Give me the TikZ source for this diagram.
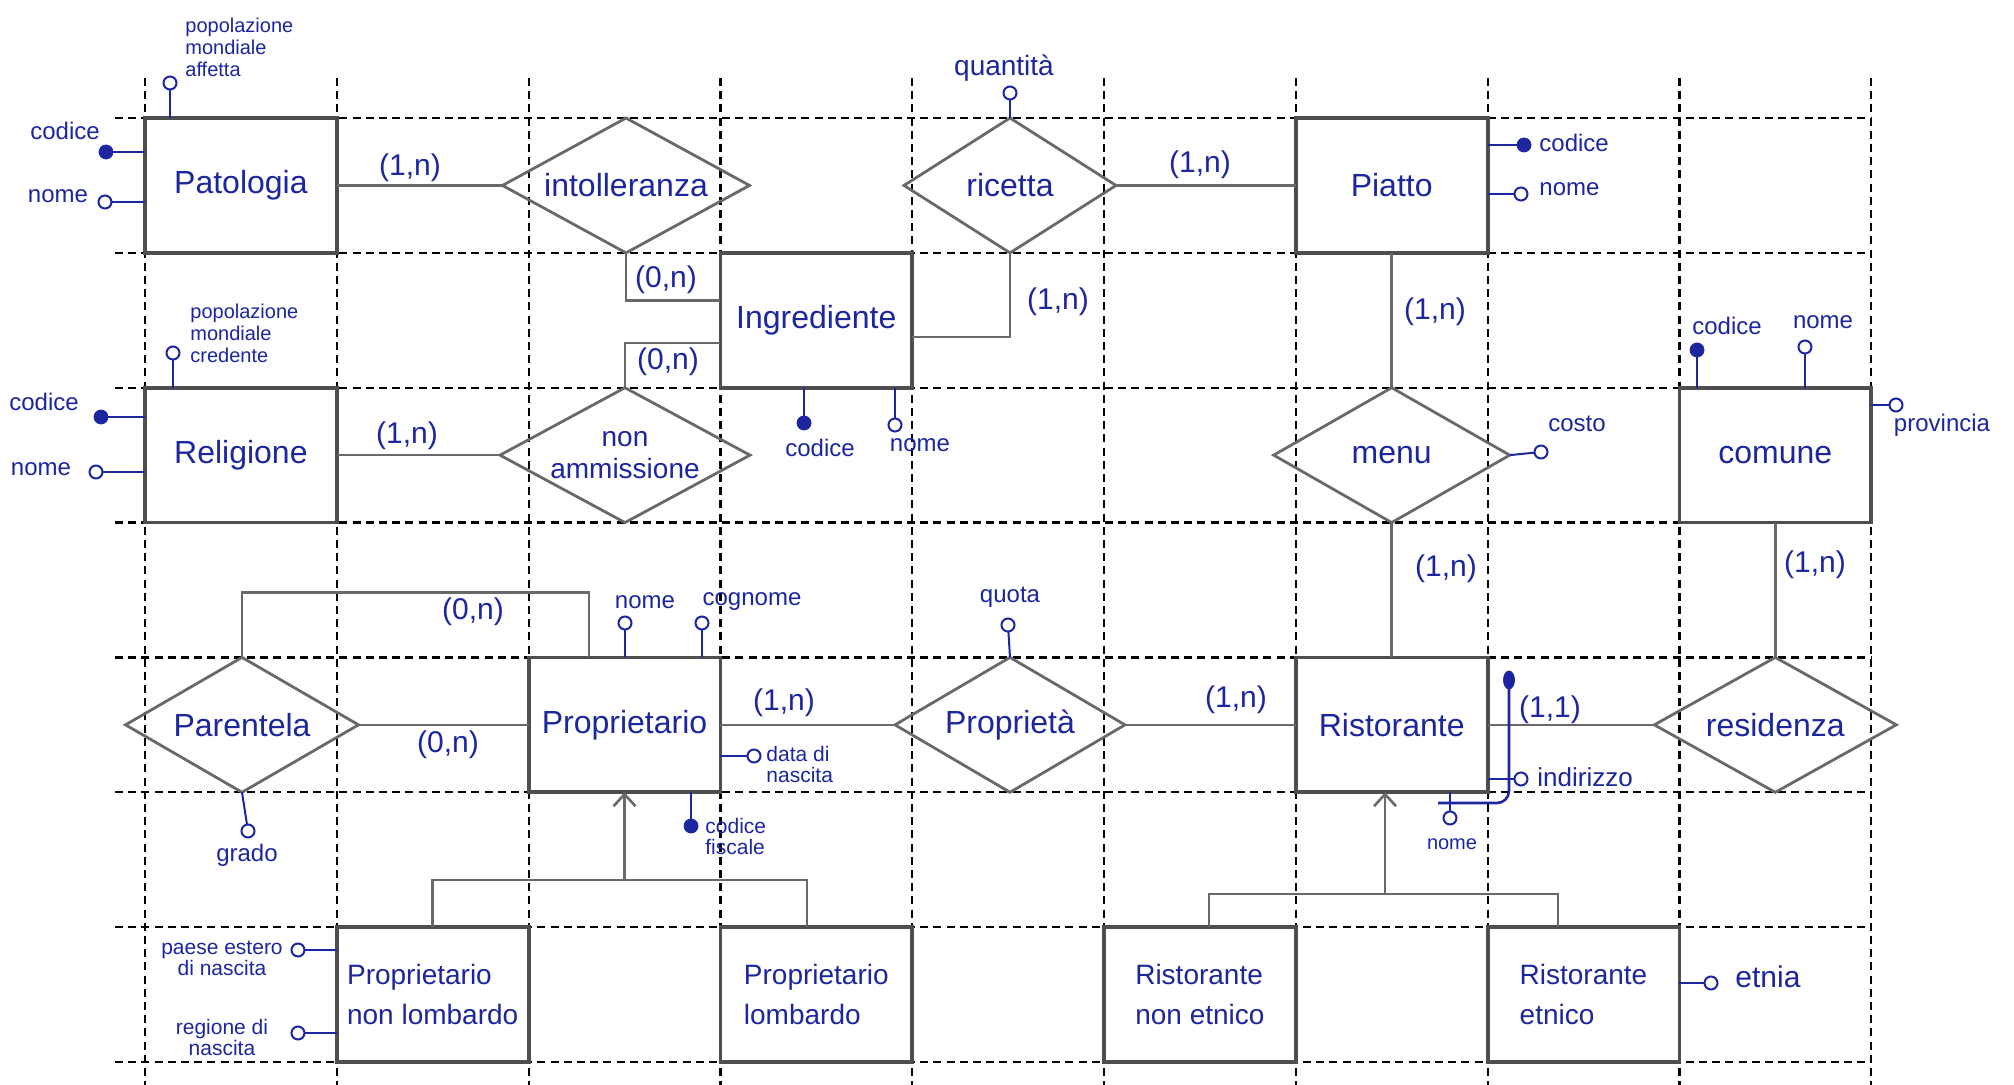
\documentclass[tikz,border=0pt]{standalone}
\usepackage{fontspec}
\setmainfont{Liberation Sans}
\usetikzlibrary{shapes.geometric,arrows.meta,calc}
\definecolor{ink}{RGB}{28,38,158}
\definecolor{boxgray}{RGB}{78,78,78}
\definecolor{lgray}{RGB}{105,105,105}
\begin{document}
\begin{tikzpicture}[x=0.5pt,y=-0.5pt,
  gridline/.style={black,line width=1.1pt,dash pattern=on 4pt off 2.6pt},
  entity/.style={rectangle,draw=boxgray,line width=1.9pt,minimum width=95.9pt,minimum height=67.43pt,inner sep=0pt,outer sep=0pt,text=ink,font=\fontsize{16}{19}\selectfont},
  subentity/.style={entity,font=\fontsize{14}{20}\selectfont,align=left},
  rel/.style={diamond,draw=lgray,line width=1.4pt,inner sep=0pt,outer sep=0pt,minimum height=67.43pt},
  rtext/.style={text=ink,font=\fontsize{16}{19}\selectfont,align=center,inner sep=0pt},
  conn/.style={draw=lgray,line width=1.3pt},
  card/.style={text=ink,font=\fontsize{15}{18}\selectfont,inner sep=0pt},
  aline/.style={draw=ink,line width=1pt},
  ao/.style={circle,draw=ink,line width=1pt,minimum size=6.5pt,inner sep=0pt,outer sep=0pt},
  ak/.style={circle,draw=ink,fill=ink,minimum size=7pt,inner sep=0pt,outer sep=0pt},
  atext/.style={text=ink,font=\fontsize{12}{13}\selectfont,inner sep=0pt,align=center},
  atexttwo/.style={text=ink,font=\fontsize{10.5}{10.5}\selectfont,inner sep=0pt,align=left},
  stext/.style={text=ink,font=\fontsize{10}{11}\selectfont,inner sep=0pt,align=left},
  isa/.style={conn,-{Straight Barb[length=6pt,width=11pt,line width=1.3pt]}}
]
\useasboundingbox (0,0) rectangle (2014,1085);
\fill[white] (0,0) rectangle (2014,1085);
% grid
\foreach \x in {145,336.8,528.6,720.4,912.2,1104,1295.8,1487.6,1679.4,1871.2}
  \draw[gridline] (\x,78) -- (\x,1085);
\foreach \y in {118,252.9,387.7,522.6,657.4,792.3,927.2,1062}
  \draw[gridline] (115,\y) -- (1871.2,\y);

% entities
\node[entity] (pat) at (240.9,185.45) {Patologia};
\node[entity] (rel) at (240.9,455.15) {Religione};
\node[entity] (ingr) at (816.3,320.3) {Ingrediente};
\node[entity] (piatto) at (1391.7,185.45) {Piatto};
\node[entity] (comune) at (1775.3,455.15) {comune};
\node[entity] (propr) at (624.5,724.85) {Proprietario};
\node[entity] (rist) at (1391.7,724.85) {Ristorante};
\node[subentity] (pnl) at (432.7,994.6) {Proprietario\\non lombardo};
\node[subentity] (pl) at (816.3,994.6) {Proprietario\\lombardo};
\node[subentity] (rne) at (1199.9,994.6) {Ristorante\\non etnico};
\node[subentity] (re) at (1583.5,994.6) {Ristorante\\etnico};

% relationships
\node[rel,minimum width=123.5pt] (intoll) at (626,185.45) {};
\node[rtext] (intollT) at (intoll) {intolleranza};
\node[rel,minimum width=106pt] (ricetta) at (1010,185.45) {};
\node[rtext] (ricettaT) at (ricetta) {ricetta};
\node[rel,minimum width=125pt] (nonamm) at (625,455.15) {};
\node[rtext,font=\fontsize{14}{16}\selectfont] (nonammT) at (nonamm) {non\\ammissione};
\node[rel,minimum width=118pt] (menu) at (1391.7,455.15) {};
\node[rtext] (menuT) at (menu) {menu};
\node[rel,minimum width=116.5pt] (par) at (242,724.85) {};
\node[rtext] (parT) at (par) {Parentela};
\node[rel,minimum width=115pt] (propta) at (1010,724.85) {};
\node[rtext] (proptaT) at (propta) {Proprietà};
\node[rel,minimum width=121pt] (resid) at (1775.3,724.85) {};
\node[rtext] (residT) at (resid) {residenza};

% connectors
\draw[conn] (pat.east) -- (intoll.west);
\draw[conn] (intoll.south) |- ([yshift=10pt]ingr.west);
\draw[conn] (nonamm.north) |- ([yshift=-11.35pt]ingr.west);
\draw[conn] (rel.east) -- (nonamm.west);
\draw[conn] (ricetta.south) |- ([yshift=-8.35pt]ingr.east);
\draw[conn] (ricetta.east) -- (piatto.west);
\draw[conn] (piatto.south) -- (menu.north);
\draw[conn] (menu.south) -- (rist.north);
\draw[conn] (comune.south) -- (resid.north);
\draw[conn] (rist.east) -- (resid.west);
\draw[conn] (propta.east) -- (rist.west);
\draw[conn] (propr.east) -- (propta.west);
\draw[conn] (par.east) -- (propr.west);
\draw[conn] (par.north) -- ++(0,-65) -| ([xshift=-17.75pt]propr.north);

% generalisations
\draw[conn] (pnl.north) -- ++(0,-47) -| ([xshift=-4.65pt]pl.north);
\draw[isa] ([yshift=-43.95pt]propr.south) -- (propr.south);
\draw[conn] ([xshift=4.55pt]rne.north) -- ++(0,-33.2) -| ([xshift=-12.75pt]re.north);
\draw[isa] ([xshift=-3.35pt,yshift=-50.85pt]rist.south) -- ([xshift=-3.35pt]rist.south);

% cardinalities
\node[card] (k1) at (410,168) {(1,n)};
\node[card] (k2) at (666,280) {(0,n)};
\node[card] (k3) at (668,362) {(0,n)};
\node[card] (k4) at (407,436) {(1,n)};
\node[card] (k5) at (1058,302) {(1,n)};
\node[card] (k6) at (1200,165) {(1,n)};
\node[card] (k7) at (1435,312) {(1,n)};
\node[card] (k8) at (1446,569) {(1,n)};
\node[card] (k9) at (1815,565) {(1,n)};
\node[card] (k10) at (1550,710) {(1,1)};
\node[card] (k11) at (1236,700) {(1,n)};
\node[card] (k12) at (784,703) {(1,n)};
\node[card] (k13) at (448,745) {(0,n)};
\node[card] (k14) at (473,612) {(0,n)};

% attributes: Patologia
\node[ao] (patpop) at (170,83) {};
\draw[aline] (patpop) -- (patpop |- pat.north);
\node[stext,anchor=west] (patpopT) at (185,47) {popolazione\\mondiale\\affetta};
\node[ak] (patcod) at (106,152) {};
\draw[aline] (patcod) -- (patcod -| pat.west);
\node[atext] (patcodT) at (65,131) {codice};
\node[ao] (patnom) at (105,202) {};
\draw[aline] (patnom) -- (patnom -| pat.west);
\node[atext] (patnomT) at (58,196) {nome};

% Religione
\node[ao] (relpop) at (173,353) {};
\draw[aline] (relpop) -- (relpop |- rel.north);
\node[stext,anchor=west] (relpopT) at (190,333) {popolazione\\mondiale\\credente};
\node[ak] (relcod) at (101,417) {};
\draw[aline] (relcod) -- (relcod -| rel.west);
\node[atext] (relcodT) at (44,402) {codice};
\node[ao] (relnom) at (96,472) {};
\draw[aline] (relnom) -- (relnom -| rel.west);
\node[atext] (relnomT) at (41,469) {nome};

% Ingrediente
\node[ak] (ingcod) at (804,423) {};
\draw[aline] (ingcod) -- (ingcod |- ingr.south);
\node[atext] (ingcodT) at (820,448) {codice};
\node[ao] (ingnom) at (895,425) {};
\draw[aline] (ingnom) -- (ingnom |- ingr.south);
\node[atext] (ingnomT) at (920,445) {nome};

% ricetta
\node[ao] (ricq) at (1010,93) {};
\draw[aline] (ricq) -- (ricetta.north);
\node[atext,font=\fontsize{14}{15}\selectfont] (ricqT) at (1004,68) {quantità};

% Piatto
\node[ak] (piacod) at (1524,145) {};
\draw[aline] (piacod) -- (piacod -| piatto.east);
\node[atext,anchor=west] (piacodT) at (1539,143) {codice};
\node[ao] (pianom) at (1521,194) {};
\draw[aline] (pianom) -- (pianom -| piatto.east);
\node[atext,anchor=west] (pianomT) at (1539,189) {nome};

% menu
\node[ao] (mencost) at (1541,452) {};
\draw[aline] (mencost) -- (menu.east);
\node[atext] (mencostT) at (1577,424) {costo};

% comune
\node[ak] (comcod) at (1697,350) {};
\draw[aline] (comcod) -- (comcod |- comune.north);
\node[atext] (comcodT) at (1727,326) {codice};
\node[ao] (comnom) at (1805,347) {};
\draw[aline] (comnom) -- (comnom |- comune.north);
\node[atext] (comnomT) at (1823,322) {nome};
\node[ao] (comprov) at (1896,405) {};
\draw[aline] (comprov) -- (comprov -| comune.east);
\node[atext] (comprovT) at (1942,425) {provincia};

% Parentela
\node[ao] (pargr) at (248,831) {};
\draw[aline] (pargr) -- (par.south);
\node[atext] (pargrT) at (247,855) {grado};

% Proprietario
\node[ao] (prnom) at (625,623) {};
\draw[aline] (prnom) -- (prnom |- propr.north);
\node[atext] (prnomT) at (645,602) {nome};
\node[ao] (prcog) at (702,623) {};
\draw[aline] (prcog) -- (prcog |- propr.north);
\node[atext] (prcogT) at (752,602) {cognome};
\node[ao] (prdata) at (754,756) {};
\draw[aline] (prdata) -- (prdata -| propr.east);
\node[atexttwo,anchor=west] (prdataT) at (766,764) {data di\\nascita};
\node[ak] (prcf) at (691,826) {};
\draw[aline] (prcf) -- (prcf |- propr.south);
\node[atexttwo,anchor=west] (prcfT) at (705,836) {codice\\fiscale};

% Proprieta
\node[ao] (pqu) at (1008,625) {};
\draw[aline] (pqu) -- (propta.north);
\node[atext] (pquT) at (1010,597) {quota};

% Ristorante
\node[ao] (rnom) at (1450,818) {};
\draw[aline] (rnom) -- (rnom |- rist.south);
\node[atext,font=\fontsize{10}{11}\selectfont] (rnomT) at (1452,844) {nome};
\node[ao] (rind) at (1521,779) {};
\draw[aline] (rind) -- (rind -| rist.east);
\node[atext,anchor=west,font=\fontsize{13}{14}\selectfont] (rindT) at (1537,777) {indirizzo};
\node[ak,ellipse,minimum width=5.5pt,minimum height=9pt] (rid) at (1509,680) {};
\coordinate (ridend) at (1438,803);
\draw[aline,line width=1.3pt,rounded corners=6pt] (rid) |- (ridend);

% Ristorante etnico
\node[ao] (retn) at (1711,983) {};
\draw[aline] (retn) -- (retn -| re.east);
\node[atext,anchor=west,font=\fontsize{15}{16}\selectfont] (retnT) at (1735,977) {etnia};

% Proprietario non lombardo
\node[ao] (pnlp) at (298,950) {};
\draw[aline] (pnlp) -- (pnlp -| pnl.west);
\node[atexttwo,align=center] (pnlpT) at (222,958) {paese estero\\di nascita};
\node[ao] (pnlr) at (298,1033) {};
\draw[aline] (pnlr) -- (pnlr -| pnl.west);
\node[atexttwo,align=center] (pnlrT) at (222,1037) {regione di\\nascita};
\end{tikzpicture}
\end{document}
